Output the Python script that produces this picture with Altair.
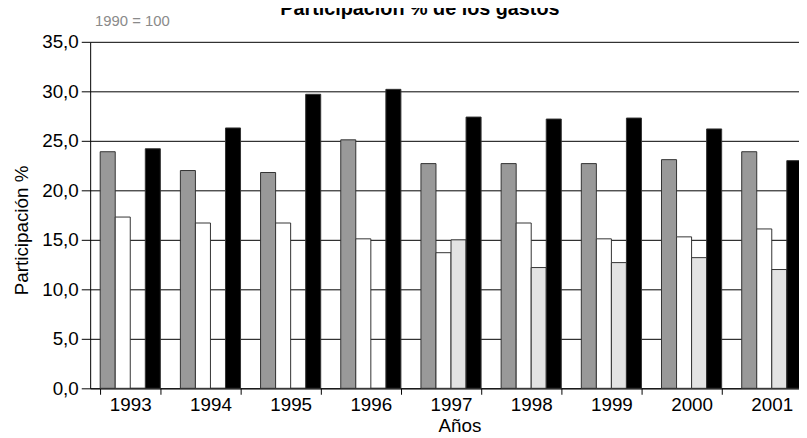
import altair as alt
import pandas as pd

years = ["1993", "1994", "1995", "1996", "1997", "1998", "1999", "2000", "2001"]
series_names = ["Serie 1", "Serie 2", "Serie 3", "Serie 4"]
serie_1 = [23.9, 22.0, 21.8, 25.1, 22.7, 22.7, 22.7, 23.1, 23.9]
serie_2 = [17.3, 16.7, 16.7, 15.1, 13.7, 16.7, 15.1, 15.3, 16.1]
serie_3 = [0.0, 0.0, 0.0, 0.0, 15.0, 12.2, 12.7, 13.2, 12.0]
serie_4 = [24.2, 26.3, 29.7, 30.2, 27.4, 27.2, 27.3, 26.2, 23.0]
colors = ["#999999", "#ffffff", "#e3e3e3", "#000000"]

rows = []
for name, vals in zip(series_names, [serie_1, serie_2, serie_3, serie_4]):
    for y, v in zip(years, vals):
        rows.append({"Año": y, "Serie": name, "Valor": v})
df = pd.DataFrame(rows)

FONT = "Liberation Sans"

bars = alt.Chart(df).mark_bar(stroke="#333333", strokeWidth=1).encode(
    x=alt.X(
        "Año:N",
        sort=years,
        scale=alt.Scale(paddingInner=0.25, paddingOuter=0.125),
        axis=alt.Axis(
            title="Años",
            labelAngle=0,
            tickBand="extent",
            tickSize=6,
            tickColor="#000000",
            domainColor="#000000",
            labelPadding=1,
            labelFontSize=19,
            labelColor="#000000",
            titleFontSize=19,
            titleFontWeight="normal",
            titleColor="#000000",
            titleX=373,
            titleY=44,
            titleBaseline="alphabetic",
            titleAlign="center",
            grid=False,
        ),
    ),
    xOffset=alt.XOffset("Serie:N", sort=series_names, scale=alt.Scale(paddingInner=0, paddingOuter=0)),
    y=alt.Y(
        "Valor:Q",
        scale=alt.Scale(domain=[0, 35], nice=False, zero=True),
        axis=alt.Axis(
            title="Participación %",
            values=[0, 5, 10, 15, 20, 25, 30, 35],
            labelExpr="replace(format(datum.value, '.1f'), '.', ',')",
            tickSize=9,
            tickColor="#000000",
            domainColor="#000000",
            labelPadding=3,
            labelFontSize=19,
            labelColor="#000000",
            grid=True,
            gridColor="#000000",
            gridWidth=1,
            gridOpacity=1,
            titleFontSize=19,
            titleFontWeight="normal",
            titleColor="#000000",
            titleX=-59,
            titleY=190,
            titleAlign="center",
            titleBaseline="bottom",
        ),
    ),
    color=alt.Color("Serie:N", sort=series_names,
                    scale=alt.Scale(domain=series_names, range=colors), legend=None),
)

note = alt.Chart(pd.DataFrame({"t": ["1990 = 100"]})).mark_text(
    align="left", baseline="alphabetic", fontSize=15, color="#8a8a8a", font=FONT
).encode(text="t:N", x=alt.value(5), y=alt.value(-16))

chart = alt.layer(bars, note).properties(
    width=729,
    height=350,
    autosize=alt.AutoSizeParams(type="none"),
    padding={"left": 83, "top": 32, "right": -13, "bottom": 48},
    title=alt.TitleParams(
        text="Participación % de los gastos",
        anchor="start",
        frame="group",
        dx=192,
        dy=7,
        offset=2,
        fontSize=20,
        fontWeight="bold",
        font=FONT,
        color="#000000",
    ),
).configure(font=FONT).configure_view(stroke=None).configure_axis(
    labelFont=FONT, titleFont=FONT, domainWidth=1, tickWidth=1
)

chart.save("out.html", embed_options={"renderer": "svg", "actions": False})
